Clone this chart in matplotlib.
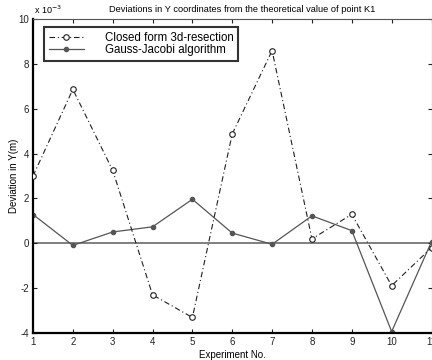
import matplotlib
matplotlib.use("Agg")
import matplotlib.pyplot as plt
import numpy as np

plt.rcParams['font.family'] = ['Liberation Sans', 'DejaVu Sans']
plt.rcParams['axes.unicode_minus'] = False

# Experiment numbers and Y deviations (units of 1e-3 m)
experiments = [1, 2, 3, 4, 5, 6, 7, 8, 9, 10, 11]
closed_form = [3.0, 6.87, 3.25, -2.31, -3.32, 4.88, 8.6, 0.19, 1.29, -1.9, -0.2]
gauss_jacobi = [1.28, -0.1, 0.5, 0.73, 1.96, 0.45, -0.05, 1.22, 0.56, -3.95, 0.07]

x_ticks = [1, 2, 3, 4, 5, 6, 7, 8, 9, 10, 11]
y_ticks = [-4, -2, 0, 2, 4, 6, 8, 10]

fig = plt.figure(figsize=(4.32, 3.60), dpi=100)
ax = fig.add_axes([33 / 432, 1 - 332.7 / 360, 398.5 / 432, 313.4 / 360])

ax.axhline(0, color='#6a6a6a', lw=1.2, zorder=1)
ax.plot(experiments, closed_form, linestyle=(0, (5, 2.5, 1, 2.5)), color='#202020', lw=0.8,
        marker='o', markersize=4, markerfacecolor='white',
        markeredgecolor='#202020', markeredgewidth=0.8,
        label='Closed form 3d-resection', zorder=3)
ax.plot(experiments, gauss_jacobi, linestyle='-', color='#555555', lw=0.9,
        marker='o', markersize=3, markerfacecolor='#555555',
        markeredgecolor='#555555', label='Gauss-Jacobi algorithm', zorder=2)

ax.set_xlim(1, 11)
ax.set_ylim(-4, 10)
ax.set_xticks(x_ticks)
ax.set_yticks(y_ticks)
ax.tick_params(direction='in', length=3, width=0.8, labelsize=7, pad=3,
               top=True, right=True, colors='#222222')

for side in ['left', 'bottom']:
    ax.spines[side].set_linewidth(1.6)
    ax.spines[side].set_color('black')
for side in ['top', 'right']:
    ax.spines[side].set_linewidth(0.8)
    ax.spines[side].set_color('#555555')

ax.set_xlabel('Experiment No.', fontsize=7, labelpad=2)
ax.set_ylabel('Deviation in Y(m)', fontsize=7)
ax.yaxis.set_label_coords(-14 / 398.5, 0.5)

fig.text(242 / 432, 1 - 10 / 360,
         'Deviations in Y coordinates from the theoretical value of point K1',
         fontsize=6.7, ha='center', va='center')
fig.text(34 / 432, 1 - 10 / 360, r'x 10$^{-3}$', fontsize=6.5,
         ha='left', va='center')

leg = ax.legend(loc='upper left', bbox_to_anchor=(11 / 398.5, 1 - 7.5 / 313.4),
                fontsize=8.3, frameon=True, fancybox=False, borderpad=0.45,
                handlelength=3.0, handletextpad=1.8, labelspacing=0.0,
                borderaxespad=0)
leg.get_frame().set_edgecolor('black')
leg.get_frame().set_linewidth(1.5)

fig.savefig('out.png', dpi=100)
